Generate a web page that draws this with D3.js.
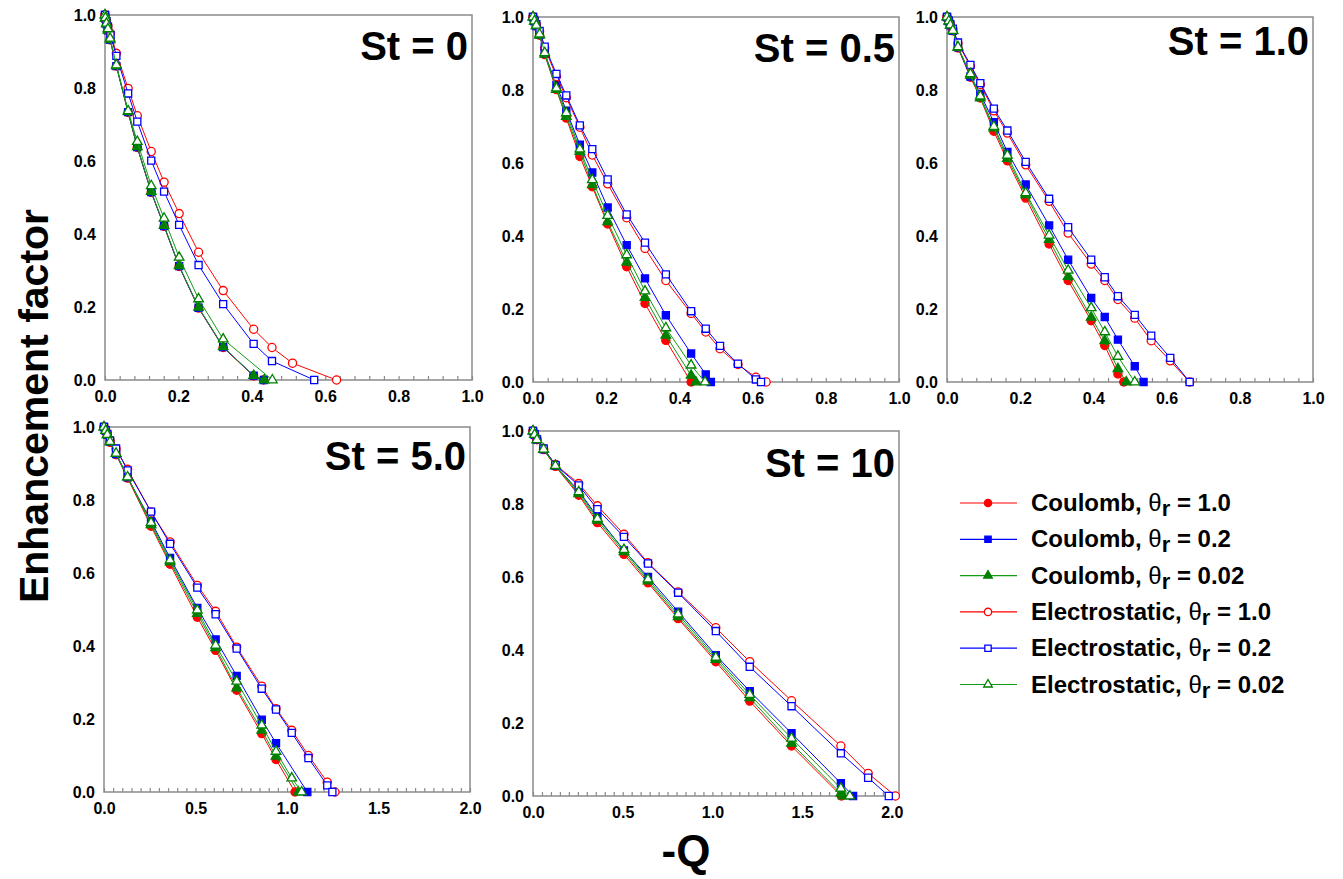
<!DOCTYPE html>
<html>
<head>
<meta charset="utf-8">
<script src="https://cdn.jsdelivr.net/npm/d3@7"></script>
<style>
  body { margin: 0; background: #fff; }
  svg { display: block; font-family: "Liberation Sans", Arial, sans-serif; }
</style>
</head>
<body>
<svg id="chart" width="1343" height="879"></svg>
<script>
// panel titles and legend entries
var stLabels = ["St = 0", "St = 0.5", "St = 1.0", "St = 5.0", "St = 10"];
var seriesModel = ["Coulomb, ", "Coulomb, ", "Coulomb, ", "Electrostatic, ", "Electrostatic, ", "Electrostatic, "];
var seriesTheta = ["1.0", "0.2", "0.02", "1.0", "0.2", "0.02"];

// tick labels
var yTicks = [0, 0.2, 0.4, 0.6, 0.8, 1.0];
var xTicksSmall = [0, 0.2, 0.4, 0.6, 0.8, 1.0];
var xTicksLarge = [0, 0.5, 1.0, 1.5, 2.0];

// [-Q, enhancement factor], series in legend order
var st0 = [
  [[0,1],[0.001,0.99],[0.004,0.975],[0.008,0.958],[0.014,0.932],[0.031,0.86],[0.063,0.733],[0.088,0.637],[0.126,0.514],[0.161,0.421],[0.202,0.311],[0.255,0.197],[0.322,0.089],[0.405,0.011],[0.432,0]],
  [[0,1],[0.001,0.99],[0.004,0.975],[0.008,0.958],[0.014,0.932],[0.031,0.86],[0.063,0.734],[0.088,0.638],[0.126,0.515],[0.161,0.422],[0.202,0.312],[0.255,0.198],[0.322,0.09],[0.405,0.012],[0.433,0]],
  [[0,1],[0.001,0.99],[0.004,0.975],[0.008,0.958],[0.014,0.932],[0.031,0.86],[0.063,0.735],[0.088,0.639],[0.126,0.516],[0.161,0.423],[0.202,0.313],[0.255,0.199],[0.322,0.091],[0.405,0.012],[0.434,0]],
  [[0,1],[0.004,0.985],[0.008,0.97],[0.015,0.95],[0.031,0.895],[0.063,0.799],[0.088,0.724],[0.126,0.626],[0.161,0.542],[0.202,0.456],[0.255,0.35],[0.322,0.245],[0.405,0.139],[0.455,0.089],[0.511,0.046],[0.631,0]],
  [[0,1],[0.004,0.983],[0.008,0.968],[0.015,0.945],[0.031,0.888],[0.063,0.785],[0.088,0.708],[0.126,0.601],[0.161,0.516],[0.202,0.425],[0.255,0.315],[0.322,0.208],[0.405,0.099],[0.455,0.052],[0.57,0]],
  [[0,1],[0.001,0.992],[0.004,0.977],[0.008,0.962],[0.014,0.936],[0.031,0.863],[0.063,0.737],[0.088,0.653],[0.126,0.532],[0.161,0.443],[0.202,0.336],[0.255,0.222],[0.322,0.112],[0.456,0]]
];

var st05 = [
  [[0,1],[0.004,0.988],[0.009,0.975],[0.018,0.95],[0.032,0.897],[0.064,0.801],[0.091,0.723],[0.128,0.618],[0.162,0.535],[0.204,0.433],[0.256,0.316],[0.306,0.215],[0.363,0.114],[0.432,0]],
  [[0,1],[0.004,0.988],[0.009,0.975],[0.018,0.952],[0.032,0.9],[0.064,0.814],[0.091,0.743],[0.128,0.65],[0.162,0.574],[0.204,0.478],[0.256,0.375],[0.306,0.284],[0.363,0.183],[0.432,0.078],[0.472,0.021],[0.486,0]],
  [[0,1],[0.004,0.988],[0.009,0.975],[0.018,0.95],[0.032,0.898],[0.064,0.801],[0.091,0.727],[0.128,0.631],[0.162,0.54],[0.204,0.439],[0.256,0.328],[0.306,0.231],[0.363,0.128],[0.432,0.018],[0.445,0]],
  [[0,1],[0.004,0.99],[0.009,0.98],[0.018,0.96],[0.032,0.915],[0.064,0.837],[0.091,0.779],[0.128,0.698],[0.162,0.622],[0.204,0.543],[0.256,0.45],[0.306,0.366],[0.363,0.278],[0.432,0.188],[0.472,0.137],[0.511,0.091],[0.56,0.048],[0.609,0.013],[0.637,0]],
  [[0,1],[0.004,0.99],[0.009,0.98],[0.018,0.962],[0.032,0.919],[0.064,0.844],[0.091,0.785],[0.128,0.703],[0.162,0.638],[0.204,0.555],[0.256,0.459],[0.306,0.382],[0.363,0.295],[0.432,0.194],[0.472,0.146],[0.511,0.099],[0.56,0.05],[0.609,0.007],[0.623,0]],
  [[0,1],[0.004,0.989],[0.009,0.977],[0.018,0.953],[0.032,0.902],[0.064,0.805],[0.091,0.737],[0.128,0.638],[0.162,0.554],[0.204,0.456],[0.256,0.348],[0.306,0.249],[0.363,0.148],[0.432,0.046],[0.47,0]]
];

var st1 = [
  [[0,1],[0.005,0.988],[0.009,0.977],[0.016,0.962],[0.03,0.915],[0.064,0.835],[0.091,0.778],[0.128,0.687],[0.165,0.606],[0.215,0.504],[0.279,0.378],[0.331,0.278],[0.394,0.168],[0.431,0.1],[0.467,0.022],[0.483,0]],
  [[0,1],[0.005,0.988],[0.009,0.977],[0.016,0.962],[0.03,0.917],[0.064,0.837],[0.091,0.789],[0.128,0.712],[0.165,0.63],[0.215,0.541],[0.279,0.429],[0.331,0.335],[0.394,0.23],[0.431,0.178],[0.467,0.116],[0.513,0.043],[0.537,0]],
  [[0,1],[0.005,0.988],[0.009,0.977],[0.016,0.962],[0.03,0.916],[0.064,0.84],[0.091,0.778],[0.128,0.696],[0.165,0.612],[0.215,0.513],[0.279,0.39],[0.331,0.289],[0.394,0.177],[0.431,0.113],[0.467,0.036],[0.49,0]],
  [[0,1],[0.005,0.99],[0.009,0.98],[0.016,0.967],[0.03,0.928],[0.064,0.865],[0.091,0.815],[0.128,0.743],[0.165,0.682],[0.215,0.595],[0.279,0.495],[0.331,0.408],[0.394,0.323],[0.431,0.278],[0.467,0.226],[0.513,0.175],[0.558,0.113],[0.61,0.058],[0.663,0]],
  [[0,1],[0.005,0.99],[0.009,0.98],[0.016,0.968],[0.03,0.93],[0.064,0.869],[0.091,0.819],[0.128,0.749],[0.165,0.689],[0.215,0.603],[0.279,0.502],[0.331,0.424],[0.394,0.335],[0.431,0.287],[0.467,0.235],[0.513,0.184],[0.558,0.127],[0.61,0.066],[0.663,0]],
  [[0,1],[0.005,0.989],[0.009,0.978],[0.016,0.963],[0.03,0.918],[0.064,0.844],[0.091,0.783],[0.128,0.7],[0.165,0.621],[0.215,0.518],[0.279,0.402],[0.331,0.306],[0.394,0.203],[0.431,0.137],[0.467,0.07],[0.513,0]]
];

var st5 = [
  [[0,1],[0.009,0.99],[0.018,0.978],[0.033,0.958],[0.066,0.924],[0.129,0.86],[0.257,0.728],[0.361,0.624],[0.51,0.479],[0.61,0.388],[0.725,0.279],[0.862,0.16],[0.94,0.089],[1.044,0]],
  [[0,1],[0.009,0.99],[0.018,0.979],[0.033,0.96],[0.066,0.926],[0.129,0.862],[0.257,0.742],[0.361,0.641],[0.51,0.504],[0.61,0.418],[0.725,0.318],[0.862,0.198],[0.94,0.134],[1.111,0]],
  [[0,1],[0.009,0.99],[0.018,0.978],[0.033,0.959],[0.066,0.927],[0.129,0.863],[0.257,0.732],[0.361,0.63],[0.51,0.489],[0.61,0.395],[0.725,0.285],[0.862,0.169],[0.94,0.098],[1.062,0]],
  [[0,1],[0.009,0.991],[0.018,0.981],[0.033,0.963],[0.066,0.94],[0.129,0.884],[0.257,0.767],[0.361,0.685],[0.51,0.566],[0.61,0.495],[0.725,0.397],[0.862,0.29],[0.94,0.228],[1.026,0.169],[1.117,0.1],[1.22,0.027],[1.262,0]],
  [[0,1],[0.009,0.991],[0.018,0.981],[0.033,0.963],[0.066,0.941],[0.129,0.881],[0.257,0.768],[0.361,0.68],[0.51,0.56],[0.61,0.487],[0.725,0.393],[0.862,0.283],[0.94,0.226],[1.026,0.162],[1.117,0.093],[1.22,0.018],[1.248,0]],
  [[0,1],[0.009,0.99],[0.018,0.979],[0.033,0.96],[0.066,0.928],[0.129,0.863],[0.257,0.738],[0.361,0.635],[0.51,0.498],[0.61,0.402],[0.725,0.303],[0.862,0.183],[0.94,0.111],[1.026,0.038],[1.08,0]]
];

var st10 = [
  [[0,1],[0.009,0.99],[0.022,0.976],[0.059,0.949],[0.125,0.903],[0.255,0.824],[0.359,0.749],[0.507,0.662],[0.641,0.584],[0.809,0.486],[1.019,0.368],[1.208,0.26],[1.441,0.137],[1.719,0]],
  [[0,1],[0.009,0.99],[0.022,0.976],[0.059,0.95],[0.125,0.905],[0.255,0.836],[0.359,0.765],[0.507,0.673],[0.641,0.6],[0.809,0.505],[1.019,0.386],[1.208,0.287],[1.441,0.172],[1.716,0.035],[1.784,0]],
  [[0,1],[0.009,0.99],[0.022,0.976],[0.059,0.949],[0.125,0.904],[0.255,0.828],[0.359,0.755],[0.507,0.669],[0.641,0.589],[0.809,0.491],[1.019,0.374],[1.208,0.269],[1.441,0.144],[1.716,0.007],[1.729,0]],
  [[0,1],[0.009,0.991],[0.022,0.977],[0.059,0.952],[0.125,0.908],[0.255,0.856],[0.359,0.795],[0.507,0.717],[0.641,0.639],[0.809,0.559],[1.019,0.461],[1.208,0.368],[1.441,0.261],[1.716,0.137],[1.868,0.062],[2.02,0]],
  [[0,1],[0.009,0.991],[0.022,0.977],[0.059,0.952],[0.125,0.907],[0.255,0.851],[0.359,0.786],[0.507,0.71],[0.641,0.637],[0.809,0.557],[1.019,0.452],[1.208,0.354],[1.441,0.246],[1.716,0.117],[1.868,0.05],[1.983,0]],
  [[0,1],[0.009,0.99],[0.022,0.976],[0.059,0.95],[0.125,0.905],[0.255,0.833],[0.359,0.76],[0.507,0.675],[0.641,0.594],[0.809,0.498],[1.019,0.38],[1.208,0.278],[1.441,0.158],[1.716,0.021],[1.766,0]]
];

// styling per series
var colors = ["#ff0000", "#0000ff", "#008000", "#ff0000", "#0000ff", "#008000"];
var lineColors = ["#ff0000", "#0000ff", "#139a13", "#ff0000", "#0000ff", "#139a13"];
var shapes = [d3.symbolCircle, d3.symbolSquare, d3.symbolTriangle, d3.symbolCircle, d3.symbolSquare, d3.symbolTriangle];
var shapeSize = [52, 50, 40, 52, 50, 40];
var filled = [true, true, true, false, false, false];

// panel boxes on the page
var panels = [
  {data: st0,  x0: 105, y0: 15,  w: 367, h: 365, xMax: 1,    ticks: xTicksSmall, minor: 0.04, ty: 45},
  {data: st05, x0: 533, y0: 17,  w: 366, h: 365, xMax: 1,    ticks: xTicksSmall, minor: 0.04, ty: 45},
  {data: st1,  x0: 947, y0: 17,  w: 366, h: 365, xMax: 1,    ticks: xTicksSmall, minor: 0.04, ty: 38},
  {data: st5,  x0: 104, y0: 427, w: 366, h: 365, xMax: 2,    ticks: xTicksLarge, minor: 0.05, ty: 43},
  {data: st10, x0: 533, y0: 431, w: 366, h: 365, xMax: 2.04, ticks: xTicksLarge, minor: 0.05, ty: 46}
];

var svg = d3.select("#chart");
var axisGray = "#8a8a8a";

function drawMarker(g, shape, size, color, fill, x, y) {
  g.append("path")
    .attr("d", d3.symbol().type(shape).size(size)())
    .attr("transform", "translate(" + x + "," + y + ")")
    .attr("fill", fill ? color : "#fff")
    .attr("stroke", color)
    .attr("stroke-width", 1.3);
}

panels.forEach(function(p, pi) {
  var g = svg.append("g").attr("transform", "translate(" + p.x0 + "," + p.y0 + ")");
  var x = d3.scaleLinear().domain([0, p.xMax]).range([0, p.w]);
  var y = d3.scaleLinear().domain([0, 1]).range([p.h, 0]);

  g.append("rect").attr("width", p.w).attr("height", p.h)
    .attr("fill", "none").attr("stroke", axisGray).attr("stroke-width", 1.5);

  // minor ticks inside the bottom edge
  var minorTicks = d3.range(0, p.xMax + 1e-9, p.minor);
  var mAxis = g.append("g").attr("transform", "translate(0," + p.h + ")")
    .call(d3.axisBottom(x).tickValues(minorTicks).tickSize(-4).tickFormat(""));
  mAxis.select(".domain").remove();
  mAxis.selectAll("line").attr("stroke", axisGray).attr("stroke-width", 1.2);

  var xAxis = g.append("g").attr("transform", "translate(0," + p.h + ")")
    .call(d3.axisBottom(x).tickValues(p.ticks).tickSize(0).tickPadding(11).tickFormat(d3.format(".1f")));
  xAxis.select(".domain").remove();
  xAxis.selectAll("text").attr("font-size", 16).attr("font-weight", "bold")
    .attr("font-family", "Liberation Sans, Arial, sans-serif").attr("fill", "#000");

  var yAxis = g.append("g")
    .call(d3.axisLeft(y).tickValues(yTicks).tickSize(0).tickPadding(9).tickFormat(d3.format(".1f")));
  yAxis.select(".domain").remove();
  yAxis.selectAll("text").attr("font-size", 16).attr("font-weight", "bold")
    .attr("font-family", "Liberation Sans, Arial, sans-serif").attr("fill", "#000");

  var line = d3.line().x(function(d) { return x(d[0]); }).y(function(d) { return y(d[1]); });

  p.data.forEach(function(series, si) {
    g.append("path").datum(series).attr("d", line)
      .attr("fill", "none").attr("stroke", lineColors[si]).attr("stroke-width", 1);
    series.forEach(function(d) {
      drawMarker(g, shapes[si], shapeSize[si], colors[si], filled[si], x(d[0]), y(d[1]));
    });
  });

  g.append("text").attr("x", p.w - 4).attr("y", p.ty)
    .attr("text-anchor", "end").attr("font-size", 40).attr("font-weight", "bold")
    .text(stLabels[pi]);
});

// legend
var legend = svg.append("g");
seriesModel.forEach(function(name, i) {
  var ly = 503 + i * 36.3;
  legend.append("line").attr("x1", 960).attr("x2", 1017).attr("y1", ly).attr("y2", ly)
    .attr("stroke", lineColors[i]).attr("stroke-width", 1.2);
  drawMarker(legend, shapes[i], shapeSize[i] * 0.8, colors[i], filled[i], 988, ly);
  var t = legend.append("text").attr("x", 1031).attr("y", ly + 8)
    .attr("font-size", 24).attr("font-weight", "bold").attr("fill", "#000");
  t.append("tspan").text(name);
  t.append("tspan").attr("font-weight", "normal").text("\u03b8");
  t.append("tspan").attr("dy", 5).attr("font-size", 22).text("r");
  t.append("tspan").attr("dy", -5).text(" = " + seriesTheta[i]);
});

// axis titles
svg.append("text").attr("transform", "translate(48,406) rotate(-90)")
  .attr("text-anchor", "middle").attr("font-size", 41).attr("font-weight", "bold")
  .text("Enhancement factor");
svg.append("text").attr("x", 686).attr("y", 866)
  .attr("text-anchor", "middle").attr("font-size", 44).attr("font-weight", "bold")
  .text("-Q");
</script>
</body>
</html>
